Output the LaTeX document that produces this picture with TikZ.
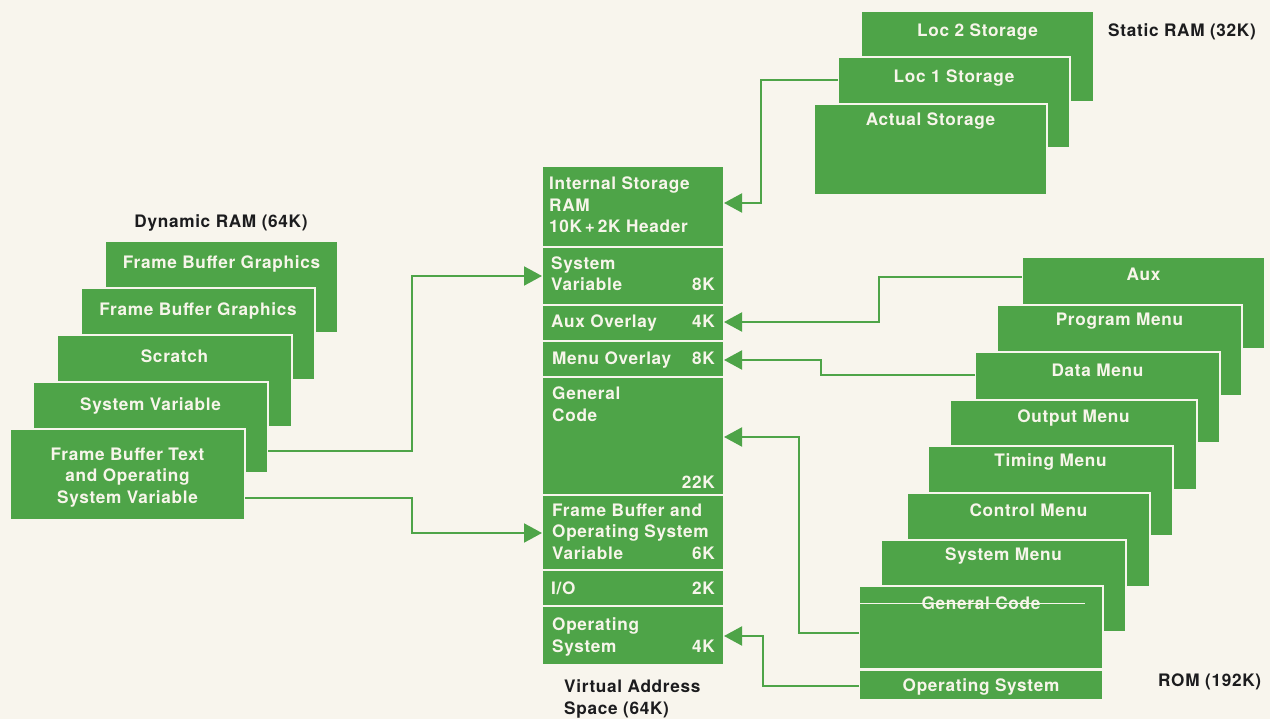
\documentclass[tikz,border=0pt]{standalone}
\usepackage{fontspec}
\newfontfamily\helv{TeX Gyre Heros}[LetterSpace=4]
\usetikzlibrary{arrows.meta}
\definecolor{hpgreen}{RGB}{78,164,72}
\definecolor{paper}{RGB}{248,245,237}
\definecolor{boxtext}{RGB}{247,245,234}
\definecolor{ink}{RGB}{28,28,30}
\newcommand\boxfont{\helv\bfseries\fontsize{17.2}{21.5}\selectfont}
\tikzset{
  blk/.style={fill=hpgreen, draw=paper, line width=1.4pt, inner sep=0pt,
              outer sep=0pt, anchor=north west},
  sz/.style 2 args={minimum width=#1pt, minimum height=#2pt},
  intext/.style={text=boxtext, font=\boxfont, inner sep=0pt, align=center, anchor=base},
  seclbl/.style={text=boxtext, font=\boxfont, inner sep=0pt, align=left, anchor=base west},
  kval/.style={text=boxtext, font=\boxfont, inner sep=0pt, anchor=base east},
  lbl/.style={text=ink, font=\boxfont, inner sep=0pt, align=left},
  conn/.style={draw=hpgreen, line width=2pt, -{Triangle[length=18pt,width=19pt]}},
}
% multi-line nodes are placed by the baseline of their last line
\begin{document}
\begin{tikzpicture}[x=1pt,y=-1pt]
\useasboundingbox (0,0) rectangle (1270,719);
\fill[paper] (0,0) rectangle (1270,719);

% ---------------- Dynamic RAM stack (back to front)
\node[blk, sz={233}{92}] (dv1) at (105,241) {};
\node[intext] (dv1t) at ([yshift=-28pt]dv1.north) {Frame Buffer Graphics};
\node[blk, sz={234}{92}] (dv2) at (81,288) {};
\node[intext] (dv2t) at ([yshift=-28pt]dv2.north) {Frame Buffer Graphics};
\node[blk, sz={235}{92}] (dv3) at (57,335) {};
\node[intext] (dv3t) at ([yshift=-28pt]dv3.north) {Scratch};
\node[blk, sz={235}{91}] (dv4) at (33,382) {};
\node[intext] (dv4t) at ([yshift=-29pt]dv4.north) {System Variable};
\node[blk, sz={235}{91}] (dv5) at (10,429) {};
\node[intext] (dv5t) at ([yshift=-74pt]dv5.north) {Frame Buffer Text\\and Operating\\System Variable};
\node[lbl, anchor=base] (dvlbl) at (221,228) {Dynamic RAM (64K)};

% ---------------- Static RAM stack
\node[blk, sz={233}{91}] (loc2) at (861,11) {};
\node[intext] (loc2t) at ([yshift=-26pt]loc2.north) {Loc 2 Storage};
\node[blk, sz={232}{91}] (loc1) at (838,57) {};
\node[intext] (loc1t) at ([yshift=-26pt]loc1.north) {Loc 1 Storage};
\node[blk, sz={233}{91}] (act) at (814,104) {};
\node[intext] (actt) at ([yshift=-22pt]act.north) {Actual Storage};
\node[lbl, anchor=base west] (srlbl) at (1108,37) {Static RAM (32K)};

% ---------------- Virtual address space column
\node[blk, sz={182}{81}] (isr) at (542,166) {};
\node[blk, sz={182}{58}] (sysv) at (542,247) {};
\node[blk, sz={182}{36}] (auxo) at (542,305) {};
\node[blk, sz={182}{36}] (menuo) at (542,341) {};
\node[blk, sz={182}{118}] (genc) at (542,377) {};
\node[blk, sz={182}{75}] (fbos) at (542,495) {};
\node[blk, sz={182}{36}] (io) at (542,570) {};
\node[blk, sz={182}{59}] (opsys) at (542,606) {};

\node[seclbl] (isrt) at (549,233) {Internal Storage\\RAM\\10K\,+\,2K Header};
\node[seclbl] (sysvt) at (551,291) {System\\Variable};
\node[kval] (sysvk) at (715,291) {8K};
\node[seclbl] (auxot) at (551,328) {Aux Overlay};
\node[kval] (auxok) at (715,328) {4K};
\node[seclbl] (menuot) at (552,365) {Menu Overlay};
\node[kval] (menuok) at (715,365) {8K};
\node[seclbl] (genct) at (552,421) {General\\Code};
\node[kval] (genck) at (715,488) {22K};
\node[seclbl] (fbost) at (552,559) {Frame Buffer and\\Operating System\\Variable};
\node[kval] (fbosk) at (715,559) {6K};
\node[seclbl] (iot) at (551,594) {I/O};
\node[kval] (iok) at (715,594) {2K};
\node[seclbl] (opsyst) at (552,652) {Operating\\System};
\node[kval] (opsysk) at (715,652) {4K};
\node[lbl, anchor=base west] (valbl) at (564,714) {Virtual Address\\Space (64K)};

% ---------------- ROM stack (back to front)
\node[blk, sz={243}{92}] (aux) at (1022,257) {};
\node[intext] (auxt) at ([yshift=-24pt]aux.north) {Aux};
\node[blk, sz={245}{91}] (prog) at (997,305) {};
\node[intext] (progt) at ([yshift=-21pt]prog.north) {Program Menu};
\node[blk, sz={245}{91}] (data) at (975,352) {};
\node[intext] (datat) at ([yshift=-25pt]data.north) {Data Menu};
\node[blk, sz={247}{90}] (outp) at (950,400) {};
\node[intext] (outpt) at ([yshift=-22pt]outp.north) {Output Menu};
\node[blk, sz={245}{90}] (timing) at (928,446) {};
\node[intext] (timingt) at ([yshift=-21pt]timing.north) {Timing Menu};
\node[blk, sz={243}{94}] (control) at (907,493) {};
\node[intext] (controlt) at ([yshift=-23pt]control.north) {Control Menu};
\node[blk, sz={245}{92}] (sysm) at (881,540) {};
\node[intext] (sysmt) at ([yshift=-20pt]sysm.north) {System Menu};
\node[blk, sz={244}{83}] (gcode) at (859,586) {};
\draw[paper, line width=0.6pt] (gcode.west |- 0,603) -- (1085,603);
\node[intext] (gcodet) at ([yshift=-23pt]gcode.north) {General Code};
\node[blk, sz={244}{30}] (osrom) at (859,670) {};
\node[intext] (osromt) at ([yshift=-6pt]osrom.center) {Operating System};
\node[lbl, anchor=base west] (romlbl) at (1158,686) {ROM (192K)};

% ---------------- Connectors
\draw[conn] (loc1.west |- 0,80) -- (761,80) |- (isr.east |- 0,203);
\draw[conn] (aux.west |- 0,277) -- (879,277) |- (auxo.east |- 0,322);
\draw[conn] (data.west |- 0,375) -- (821,375) |- (menuo.east |- 0,360);
\draw[conn] (gcode.west |- 0,633) -- (799,633) |- (genc.east |- 0,437);
\draw[conn] (osrom.west |- 0,686) -- (763,686) |- (opsys.east |- 0,636);
\draw[conn] (dv4.east |- 0,451) -- (412,451) |- (sysv.west |- 0,276);
\draw[conn] (dv5.east |- 0,498) -- (412,498) |- (fbos.west |- 0,533);
\end{tikzpicture}
\end{document}
